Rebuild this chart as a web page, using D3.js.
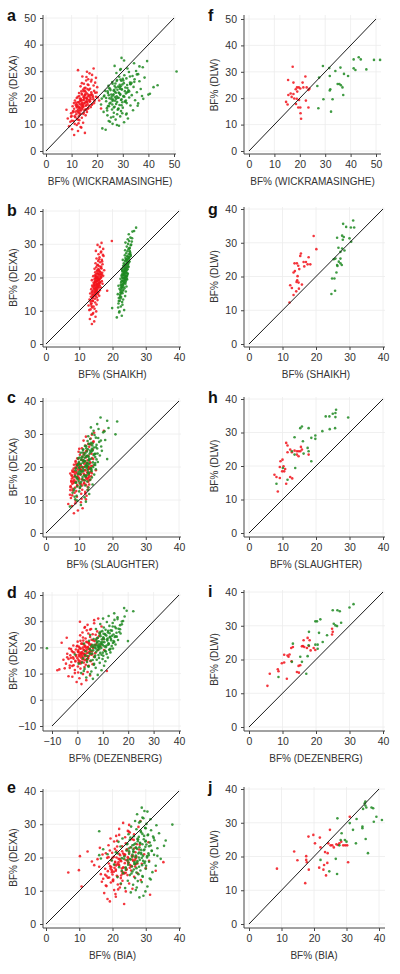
<!DOCTYPE html>
<html><head><meta charset="utf-8">
<script src="https://cdn.jsdelivr.net/npm/d3@7"></script>
<style>body{margin:0;background:#fff}svg{display:block}</style>
</head><body><svg id="chart" width="400" height="974"></svg>
<script>
// ---------- tick labels ----------
const ticks50 = [0,10,20,30,40,50];
const ticks40 = [0,10,20,30,40];
const ticksNeg = [-10,0,10,20,30,40];

// ---------- DEXA reference values (same children in panels a-e) ----------
const dexaRed = [6.0,6.8,7.5,8.2,8.8,9.3,9.8,10.2,10.6,11.0,
11.3,11.6,11.9,12.2,12.5,12.7,13.0,13.2,13.4,13.6,
13.8,14.0,14.2,14.4,14.5,14.7,14.9,15.0,15.2,15.3,
15.5,15.6,15.8,15.9,16.1,16.2,16.4,16.5,16.6,16.8,
16.9,17.0,17.2,17.3,17.4,17.6,17.7,17.8,18.0,18.1,
18.2,18.4,18.5,18.6,18.8,18.9,19.0,19.2,19.3,19.5,
19.6,19.8,19.9,20.1,20.2,20.4,20.5,20.7,20.9,21.0,
21.2,21.4,21.6,21.8,22.0,22.2,22.4,22.6,22.9,23.1,
23.4,23.7,24.0,24.3,24.6,25.0,25.3,25.7,26.1,26.5,
27.0,27.5,28.0,28.6,29.2,29.8,30.4,31.0,16.0,19.0,
14.3,15.1,15.7,16.3,16.7,17.1,17.5,17.9,18.3,18.7,
19.1,19.4,19.7,20.0,20.3,20.6,21.1,21.5,22.1,22.7,
13.1,13.9,14.6,15.4,16.0,16.6,17.0,17.4,17.8,18.2,
18.6,19.0,19.5,19.9,20.4,20.8,21.3,21.9,22.5,23.3,
12.0,12.9,14.8,15.5,16.2,16.9,17.6,18.4,19.2,20.1,
21.0,23.8,24.8,25.5,26.8,11.4,10.4,9.0,27.8,18.0];
const dexaGreen = [8.0,8.5,9.5,10.2,10.8,11.3,11.8,12.2,12.6,13.0,
13.4,13.8,14.1,14.4,14.7,15.0,15.3,15.6,15.8,16.1,
16.3,16.6,16.8,17.1,17.3,17.5,17.7,17.9,18.1,18.3,
18.5,18.7,18.9,19.1,19.3,19.4,19.6,19.8,20.0,20.1,
20.3,20.5,20.6,20.8,21.0,21.1,21.3,21.5,21.6,21.8,
22.0,22.1,22.3,22.5,22.6,22.8,23.0,23.2,23.3,23.5,
23.7,23.9,24.1,24.3,24.5,24.7,24.9,25.1,25.3,25.5,
25.7,25.9,26.2,26.4,26.7,27.0,27.3,27.6,27.9,28.2,
28.5,28.9,29.3,29.7,30.1,30.5,31.0,31.5,32.0,33.0,
34.0,35.0,22.4,19.7,17.0,24.0,21.2,20.7,29.9,33.8,
16.4,17.2,17.8,18.4,19.0,19.5,20.0,20.4,20.9,21.4,
21.9,22.4,22.9,23.4,23.9,24.4,25.0,25.6,26.3,27.1,
15.5,16.9,18.0,18.8,19.2,19.9,20.2,20.7,21.2,21.7,
22.2,22.7,23.1,23.6,24.2,24.8,25.4,26.0,26.9,28.0,
12.9,14.2,15.2,16.0,17.5,18.6,19.6,21.0,22.0,23.0,
24.0,25.2,26.5,28.8,30.8,11.0,9.8,13.7,31.8,20.5];

// ---------- predicted BF% for the DEXA children ----------
const wickRed = [11.0,15.2,12.5,10.2,13.8,9.0,12.0,11.2,14.5,9.5,
10.8,13.0,12.2,8.5,14.0,11.5,12.8,10.0,15.5,13.2,
11.8,13.5,9.8,14.8,12.4,16.0,12.9,10.6,13.7,15.0,
8.0,12.6,14.2,11.0,16.5,13.3,12.1,17.5,14.6,10.4,
13.9,12.3,15.8,11.6,14.4,18.0,13.1,16.2,10.9,15.1,
14.0,12.7,17.0,15.6,13.4,19.0,11.3,16.8,14.9,18.5,
13.6,15.9,12.0,17.3,14.7,19.5,16.4,13.0,18.2,15.3,
14.1,17.8,16.0,12.9,19.8,15.5,13.8,18.8,16.7,14.5,
17.2,15.0,20.0,13.5,18.6,16.3,14.8,19.2,17.6,15.7,
16.5,19.5,14.2,18.0,17.0,16.0,12.5,18.6,21.5,20.8,
13.0,12.2,15.4,14.1,11.9,16.8,13.6,15.0,12.6,17.2,
14.4,16.1,13.2,15.7,18.3,14.8,16.6,13.9,17.7,15.2,
11.2,14.6,10.5,13.4,16.4,12.8,15.5,17.9,14.2,11.7,
16.0,13.5,17.4,14.9,12.4,16.9,15.3,19.2,14.7,16.2,
12.3,9.8,11.5,15.8,13.0,14.5,12.0,15.9,13.7,20.2,
17.5,15.4,16.6,14.0,17.8,10.1,12.7,13.5,15.8,18.8];
const wickGreen = [23.3,22.0,28.5,26.0,30.5,24.5,27.2,32.0,25.4,29.0,
24.0,27.8,31.5,26.5,22.5,29.3,34.0,25.8,28.2,23.8,
30.0,26.8,24.6,33.0,28.7,21.5,27.4,36.0,25.2,29.8,
31.0,23.5,27.0,34.8,26.2,29.5,38.0,24.8,28.0,32.5,
25.6,30.2,27.6,22.8,33.5,29.0,26.4,40.6,31.2,24.2,
28.4,35.5,26.9,30.8,23.2,32.2,27.9,29.6,37.0,25.0,
31.8,27.3,34.2,29.2,24.4,43.6,28.8,33.0,26.0,30.4,
32.8,25.9,36.5,29.4,27.8,34.6,31.4,38.5,28.6,33.8,
30.6,36.0,27.5,32.4,35.2,29.0,31.8,37.8,26.8,34.4,
30.5,29.5,24.1,21.8,35.8,42.0,40.0,37.5,51.0,39.5,
26.5,29.5,24.8,27.8,31.2,25.6,28.4,30.6,26.2,29.0,
27.3,32.5,25.2,28.9,31.0,26.8,29.8,33.4,27.6,30.0,
28.0,24.2,31.5,26.0,29.3,23.5,27.0,30.3,25.5,28.6,
32.0,26.4,29.6,24.6,28.2,31.7,27.1,34.5,29.1,32.8,
26.3,29.8,23.9,28.3,25.9,30.8,27.4,24.5,31.6,26.7,
28.8,33.0,30.2,35.5,29.2,25.0,27.7,31.3,36.5,22.6];
const shaikhRed = [13.8,14.5,13.2,14.9,13.6,14.2,15.1,13.0,14.6,13.9,
14.3,12.8,15.2,13.7,14.8,13.4,14.1,15.5,13.1,14.7,
14.0,15.3,13.5,14.9,16.0,13.9,14.4,15.6,13.3,15.0,
14.6,15.8,13.8,15.2,14.2,16.2,14.9,13.6,15.5,14.4,
15.1,16.5,14.0,15.7,14.8,13.9,16.0,15.3,14.5,17.0,
15.4,14.3,16.3,15.0,14.7,16.8,15.6,13.8,15.9,14.6,
16.1,15.2,14.9,16.6,15.5,14.2,17.2,15.8,16.4,15.0,
15.7,16.9,14.8,16.2,15.3,17.5,15.9,14.6,16.5,15.1,
16.0,15.4,17.0,14.9,16.3,15.7,16.8,15.2,16.1,17.3,
15.8,16.5,15.0,17.2,16.2,15.5,16.7,19.8,18.4,15.3,
14.2,15.0,14.6,15.3,14.9,15.6,14.4,15.2,15.9,14.8,
15.4,16.1,15.0,15.7,16.3,14.7,15.8,16.4,15.5,16.7,
13.6,14.0,14.8,13.9,15.1,14.5,16.0,15.3,14.6,15.9,
16.2,14.9,15.6,16.5,15.0,16.8,15.4,16.0,15.7,16.6,
13.5,14.1,14.3,15.5,14.9,15.2,16.1,14.7,15.8,15.1,
16.4,15.6,16.9,16.0,17.1,13.7,13.4,14.0,16.6,15.5];
const shaikhGreen = [21.3,22.8,22.0,23.5,19.9,22.5,23.0,21.8,22.9,22.2,
23.2,21.9,22.6,23.8,22.3,21.6,23.0,22.7,24.0,22.4,
23.3,22.1,23.6,22.8,24.2,21.8,23.1,22.5,23.9,23.4,
22.6,24.0,23.2,22.9,23.7,24.4,22.4,23.5,23.0,24.1,
23.8,22.7,24.3,23.3,22.9,24.6,23.6,23.1,24.0,23.4,
24.2,23.0,23.7,24.5,22.8,23.9,24.1,23.5,24.8,23.2,
24.0,23.6,24.7,23.4,24.3,25.0,23.8,24.5,23.1,24.2,
24.6,23.9,25.1,24.4,23.7,24.9,24.1,25.3,24.5,23.8,
24.8,25.2,24.3,25.5,24.7,23.9,25.0,24.6,25.4,24.9,
26.5,27.1,23.6,23.4,22.7,24.2,23.5,23.0,25.6,26.0,
22.6,23.3,22.9,23.6,23.1,23.8,23.4,24.0,23.5,24.2,
23.7,24.4,23.9,24.6,24.1,24.8,24.3,25.0,24.6,25.3,
22.4,22.8,23.2,22.7,23.9,23.0,24.1,23.3,24.5,23.6,
24.0,23.4,24.7,23.8,24.4,25.1,24.2,24.9,25.4,25.2,
21.9,22.3,22.5,23.1,22.6,23.5,24.3,23.7,22.9,24.0,
24.6,23.9,25.5,25.0,25.8,21.7,22.1,22.4,25.9,24.4];
const slaughterRed = [8.4,9.6,11.0,7.8,6.7,10.5,8.9,12.0,7.5,9.3,
12.2,7.2,10.6,8.6,11.8,9.1,7.3,12.6,8.0,10.2,
8.8,12.5,7.4,10.9,9.4,13.0,7.9,11.4,8.3,10.1,
12.7,9.0,7.6,11.6,8.5,13.3,10.0,7.8,12.1,9.8,
8.2,11.9,13.6,9.5,7.7,12.9,10.4,8.7,11.3,13.8,
9.2,12.4,8.0,13.5,10.7,7.9,11.8,9.7,12.8,10.3,
13.4,8.8,11.1,12.6,9.3,14.0,10.5,8.4,12.2,11.5,
9.9,13.2,11.7,8.9,12.5,10.6,14.2,9.4,12.0,11.0,
12.8,10.2,13.7,11.4,9.8,12.3,14.1,10.8,13.0,11.9,
12.7,14.2,11.3,13.4,12.0,13.8,14.5,17.4,13.0,15.0,
9.4,11.5,8.2,10.8,12.6,8.7,11.9,9.9,13.1,8.4,
10.6,12.8,9.2,11.4,13.6,10.1,12.3,8.9,11.0,13.9,
10.9,7.4,12.0,8.6,11.2,9.6,13.0,7.8,10.4,12.5,
9.1,11.7,8.3,12.9,10.2,9.0,13.4,11.1,9.7,12.2,
11.8,8.0,10.5,7.6,12.4,9.3,11.6,8.5,10.3,12.7,
9.5,11.3,12.1,10.0,13.5,7.9,10.7,8.8,14.3,7.3];
const slaughterGreen = [7.2,10.5,12.0,8.8,11.6,9.2,13.0,8.0,10.0,12.5,
8.5,12.8,9.4,11.8,14.0,10.2,8.9,12.4,9.8,13.3,
11.0,9.3,13.8,12.0,8.7,11.5,14.5,9.6,12.8,10.4,
9.8,13.7,10.3,12.5,15.0,11.2,9.0,10.0,14.2,11.8,
12.2,9.4,14.8,13.0,10.5,12.6,11.1,15.6,9.9,11.8,
12.9,10.6,15.2,13.6,9.7,11.6,14.8,10.9,12.4,16.2,
11.5,14.6,15.5,10.4,13.4,12.3,16.8,14.0,11.2,13.8,
12.1,14.4,16.6,11.7,15.2,12.9,13.6,16.0,12.5,17.8,
13.3,15.0,12.7,14.6,13.9,17.2,14.3,15.8,13.5,15.4,
18.4,16.4,18.4,12.2,11.0,13.1,12.3,14.5,20.9,21.4,
9.5,11.9,10.3,12.7,8.9,13.4,10.8,12.2,9.9,14.1,
11.4,13.0,10.1,12.5,14.6,11.0,13.3,15.4,12.1,14.0,
10.6,9.2,12.9,11.2,13.7,10.0,12.4,9.6,14.8,11.5,
13.1,10.7,12.0,14.3,11.8,13.8,12.6,15.0,13.2,16.5,
8.4,10.4,9.1,11.6,12.3,10.9,13.5,9.8,11.3,12.8,
14.9,11.1,13.9,15.7,17.6,8.6,9.4,10.2,18.8,12.0];
const dezenbergRed = [1.6,-0.3,3.5,0.8,-2.0,5.0,2.2,-1.0,4.0,11.6,
-7.9,-7.1,1.2,-3.0,2.8,0.2,4.5,-1.5,3.3,6.0,
-4.5,0.9,2.5,-2.4,1.7,5.2,-0.8,3.8,0.4,-5.5,
2.0,-3.5,4.2,0.0,1.4,-1.8,6.5,2.9,-0.5,3.6,
1.0,-2.8,5.5,0.6,3.0,-4.0,2.4,7.0,-1.2,4.4,
1.8,0.3,5.8,-2.2,3.4,8.0,2.6,-0.6,4.8,1.3,
-3.2,6.2,2.1,4.1,0.7,9.0,3.1,-1.6,5.3,2.7,
7.4,1.5,4.6,-6.2,3.9,0.1,6.8,2.3,5.6,10.0,
3.2,-4.2,5.0,8.5,1.1,6.0,4.3,2.0,7.8,3.7,
5.4,2.8,9.5,4.0,6.6,1.0,6.6,8.2,-2.6,10.5,
0.5,3.2,-1.5,2.0,4.5,-0.5,1.5,3.8,0.2,5.0,
2.4,-2.5,1.0,4.0,2.8,0.0,5.5,1.8,3.5,6.2,
-3.0,1.3,-0.8,2.6,4.2,0.7,3.0,5.8,1.6,-1.8,
2.9,0.4,4.8,3.3,-0.2,6.8,2.1,4.4,1.2,7.5,
-5.0,-2.0,0.9,3.6,-4.0,1.9,2.5,5.2,3.9,6.0,
4.7,2.2,7.2,8.8,5.0,-1.0,0.3,-3.5,3.0,1.0];
const dezenbergGreen = [6.1,3.5,8.0,1.5,5.5,9.5,2.8,7.2,4.4,10.5,
6.5,0.5,8.8,3.8,11.0,5.2,7.6,9.9,2.2,12.0,
6.9,4.0,10.2,8.3,-1.0,11.5,5.8,9.0,13.0,7.4,
3.2,10.8,6.2,12.5,8.6,4.8,14.0,9.4,7.0,11.2,
5.4,13.5,8.1,10.0,6.8,15.0,9.2,2.6,12.2,7.7,
10.6,14.5,8.4,4.6,11.8,16.0,9.6,6.4,13.2,10.3,
7.9,12.8,15.5,9.1,11.4,5.0,14.2,10.8,17.0,8.7,
12.0,16.5,9.8,13.6,11.1,7.3,15.2,10.4,14.8,12.6,
16.8,9.0,13.9,11.6,18.0,14.6,10.1,15.8,12.3,14.5,
19.4,18.4,19.9,-12.0,3.0,12.8,8.5,7.5,17.5,22.0,
6.8,9.5,4.8,11.2,7.9,13.0,8.6,10.7,5.9,12.4,
9.3,14.2,7.4,11.9,10.2,13.6,8.9,15.4,12.1,16.2,
3.8,7.0,10.0,5.5,12.8,8.2,6.3,11.5,9.7,14.0,
7.7,13.3,10.5,8.0,15.0,11.0,12.7,9.1,16.8,13.9,
4.2,1.8,6.0,8.5,5.1,10.9,7.2,12.2,9.9,11.7,
14.7,10.3,13.1,17.5,15.8,2.5,5.0,6.6,18.6,8.8];
const biaRed = [23.5,19.2,18.5,21.0,31.3,17.5,24.0,20.5,26.0,22.2,
10.7,18.0,21.6,25.0,19.5,16.8,23.0,28.5,20.2,17.2,
22.5,19.0,26.5,18.2,21.3,24.5,20.0,16.5,23.6,27.5,
6.7,19.8,22.8,18.6,25.6,9.9,21.0,24.2,17.8,30.0,
20.6,23.3,16.0,26.8,19.3,22.0,14.5,25.2,21.5,28.8,
18.9,24.8,20.8,35.3,13.8,22.6,26.2,19.6,23.9,15.5,
21.8,27.0,18.4,24.6,20.4,10.2,25.8,22.3,17.0,29.5,
23.2,19.9,26.9,12.5,21.2,24.4,28.0,20.7,16.2,25.4,
22.9,18.8,27.3,24.0,30.8,21.4,26.4,19.4,23.8,21.1,
26.5,25.2,24.6,22.0,27.8,25.0,23.2,28.4,33.0,31.0,
21.5,23.0,20.4,24.2,22.8,19.6,25.5,21.9,23.7,20.8,
22.4,26.0,24.8,21.2,27.2,23.5,22.0,25.0,19.2,26.5,
20.1,18.6,22.6,24.0,21.0,19.4,23.2,25.8,20.6,27.5,
21.8,24.5,22.2,20.0,26.2,23.8,18.0,22.9,24.3,21.4,
22.5,20.2,17.8,23.4,19.8,25.2,21.1,24.7,26.8,18.8,
23.6,28.2,20.5,25.9,22.0,18.2,21.7,20.9,24.9,27.0];
const biaGreen = [28.1,29.3,25.5,27.0,23.8,30.5,26.2,22.5,28.8,24.6,
31.5,26.8,21.5,29.0,25.2,27.8,23.2,32.0,26.0,28.4,
24.0,30.0,27.2,22.0,25.8,33.0,28.9,20.5,26.6,29.6,
24.8,31.0,27.5,19.8,28.2,25.4,34.5,22.8,30.4,26.9,
23.6,29.2,27.0,32.5,18.5,25.0,30.8,28.0,21.0,26.3,
31.8,24.2,28.6,17.2,27.4,33.5,25.6,29.9,22.4,35.5,
26.0,30.2,24.5,28.3,31.2,21.8,27.6,36.0,25.2,29.4,
23.0,32.4,27.9,26.4,30.6,24.8,34.0,28.6,16.0,31.6,
27.2,29.8,25.6,33.2,30.2,28.0,26.8,31.4,29.0,27.4,
29.6,28.8,26.2,16.5,24.0,29.0,21.5,16.0,38.0,30.5,
26.4,28.0,24.7,27.4,29.2,25.3,27.9,30.4,26.0,28.6,
25.0,29.6,27.1,31.0,26.5,28.3,30.0,27.5,32.2,29.0,
27.2,23.9,26.7,29.8,24.5,28.8,25.9,30.9,27.8,26.3,
29.4,24.9,28.1,31.5,26.9,29.9,27.7,25.4,30.7,28.5,
27.6,29.1,25.7,22.8,30.1,26.6,23.4,28.7,31.8,27.0,
24.3,32.6,29.5,30.0,28.4,27.3,29.9,31.2,29.3,33.5];

// ---------- DLW subsample: [predicted, DLW] ----------
const dlwWickRed = [[15.4,26.9],[17.2,31.9],[17.5,25.9],[21.1,25.9],[22.2,28.2],[18.9,24.1],[19.6,24.1],[20.2,23.7],[18.4,23.4],[22.7,24.1],[23.4,23.1],[16.4,21.8],[17.5,21.6],[15.5,21.2],[17.8,19.9],[18.8,19.8],[19.7,19.3],[14.6,18.6],[15.2,17.6],[18.5,17.8],[19.4,16.5],[20.2,16.5],[22.4,19.1],[23.4,16.5],[20.3,14.3],[20.5,12.2],[21.4,24.1],[16.8,20.5],[19.0,22.5],[23.8,23.6]];
const dlwWickGreen = [[27.6,27.8],[26.9,24.6],[29.1,32.2],[31.6,31.4],[31.8,28.4],[34.0,30.3],[36.0,31.6],[37.4,29.2],[39.0,28.4],[41.2,34.7],[43.2,35.5],[44.0,34.7],[49.2,34.5],[51.6,34.5],[41.2,31.3],[41.9,30.7],[46.2,30.9],[32.0,23.4],[31.8,22.9],[34.9,25.4],[35.6,25.4],[36.2,24.9],[36.8,24.1],[37.1,21.2],[29.3,19.6],[32.9,19.6],[27.3,16.2],[32.3,14.9]];
const dlwShaikhRed = [[19.3,32.0],[20.1,28.1],[15.5,26.8],[15.3,26.1],[17.8,25.7],[14.3,23.9],[13.6,23.9],[14.7,23.2],[16.3,24.3],[17.0,24.3],[17.5,23.6],[18.3,23.6],[16.5,23.0],[13.7,21.6],[13.3,21.2],[14.5,20.1],[14.4,18.9],[14.2,18.4],[14.8,18.2],[12.3,17.4],[12.8,16.6],[14.9,16.4],[14.1,15.6],[13.3,14.5],[12.1,12.3],[15.0,22.2],[15.8,17.6]];
const dlwShaikhGreen = [[28.1,35.6],[29.0,34.7],[31.1,36.6],[30.4,34.5],[31.4,34.5],[27.8,32.1],[28.3,31.7],[26.3,31.5],[28.0,30.9],[30.0,31.3],[30.5,30.3],[26.7,28.5],[27.8,28.3],[27.3,27.3],[28.5,27.7],[25.8,25.3],[25.3,25.1],[27.3,25.3],[26.8,24.4],[26.3,23.4],[27.3,23.9],[26.4,23.1],[27.7,23.4],[26.1,21.2],[24.8,19.4],[25.5,19.4],[25.7,15.8],[24.6,14.8]];
const dlwSlaughterRed = [[9.2,19.7],[9.4,21.4],[10.0,21.9],[11.1,26.9],[11.5,26.1],[12.3,24.9],[11.5,24.1],[12.8,24.1],[13.6,24.6],[14.3,24.4],[14.8,24.4],[15.3,24.4],[14.3,23.4],[14.8,22.9],[15.5,25.7],[15.8,24.9],[17.8,23.4],[10.3,19.9],[10.8,19.1],[10.5,18.4],[9.9,18.4],[7.6,17.4],[8.2,16.7],[9.2,16.4],[12.3,16.7],[12.9,16.3],[11.1,14.7],[8.6,12.4]];
const dlwSlaughterGreen = [[15.8,31.8],[15.3,31.3],[17.8,31.3],[13.6,28.6],[16.1,27.4],[19.8,29.1],[18.6,28.4],[19.8,28.1],[21.9,30.4],[22.9,34.8],[24.0,34.8],[25.0,35.6],[25.8,35.8],[26.0,36.8],[25.8,34.6],[24.1,31.0],[25.7,31.3],[29.6,34.5],[17.5,25.4],[17.8,24.4],[16.3,23.7],[18.6,21.4],[12.8,24.4],[13.6,23.4],[13.8,19.4],[11.5,15.9],[10.1,19.4],[8.2,14.7]];
const dlwDezenbergRed = [[5.5,12.2],[6.2,15.8],[8.8,16.5],[8.6,17.1],[9.8,18.9],[10.5,19.1],[10.5,21.4],[11.5,21.2],[12.1,21.5],[11.8,20.8],[11.3,14.3],[12.6,23.4],[13.1,23.7],[12.7,19.5],[14.3,16.3],[14.9,16.1],[14.8,18.1],[15.3,18.3],[15.8,23.9],[16.1,24.0],[16.5,23.7],[16.3,25.7],[17.5,26.4],[18.1,25.7],[17.3,23.4],[17.9,24.0],[18.4,22.7],[19.3,23.4],[19.8,22.8],[24.8,29.1],[25.0,28.2],[24.8,27.4]];
const dlwDezenbergGreen = [[8.8,14.8],[12.8,19.3],[13.1,24.7],[15.3,20.8],[15.8,19.3],[17.1,15.8],[17.5,21.0],[17.8,24.2],[17.9,28.2],[19.8,31.3],[20.3,31.3],[21.3,31.9],[19.8,24.4],[20.5,23.2],[20.5,24.4],[20.9,27.9],[22.0,25.2],[23.3,27.2],[25.0,34.6],[26.4,34.6],[27.1,34.3],[25.3,30.6],[25.8,30.1],[26.3,29.9],[27.5,30.9],[30.0,35.4],[31.2,36.4]];
const dlwBiaRed = [[8.6,16.4],[13.9,21.5],[14.9,18.9],[17.6,20.1],[17.6,19.0],[17.8,18.3],[18.3,25.9],[18.4,16.1],[17.3,12.1],[19.8,26.4],[20.3,23.9],[21.8,25.6],[22.0,22.7],[21.6,16.7],[22.9,16.1],[23.4,21.3],[23.1,17.5],[23.7,14.4],[24.1,18.1],[24.2,21.0],[24.4,23.9],[24.9,27.9],[25.1,23.3],[25.6,23.3],[26.1,22.7],[26.9,23.6],[27.4,23.4],[27.8,23.9],[28.4,24.4],[29.0,23.3],[29.6,23.3],[30.2,23.3],[30.5,18.3],[31.0,31.8]];
const dlwBiaGreen = [[22.0,19.0],[24.7,15.6],[26.7,19.3],[27.2,31.3],[27.1,14.8],[27.8,23.3],[28.2,24.9],[28.5,26.9],[29.5,24.9],[30.0,24.4],[31.0,29.9],[32.0,27.9],[32.9,23.9],[33.1,31.1],[34.9,28.4],[34.9,28.9],[35.1,34.1],[35.6,35.8],[35.8,36.3],[35.8,35.1],[36.1,34.5],[35.9,25.2],[36.6,21.0],[37.7,34.5],[38.2,34.3],[38.4,30.3],[39.2,31.8],[40.9,30.8]];

// ---------- layout ----------
const RED = "#f2131b", GREEN = "#1f8a22";
const FONT = "'Liberation Sans', Arial, Helvetica, sans-serif";
const svg = d3.select("#chart");

const panels = [
 {letter:"a", xl:"BF% (WICKRAMASINGHE)", yl:"BF% (DEXA)", red:d3.zip(wickRed,dexaRed), green:d3.zip(wickGreen,dexaGreen),
  xd:[0,50], yd:[0,50], xt:ticks50, yt:ticks50, xr:[46,174], yr:[151,18], f:[43,176,15,154], lx:7, ly:21},
 {letter:"f", xl:"BF% (WICKRAMASINGHE)", yl:"BF% (DLW)", red:dlwWickRed, green:dlwWickGreen,
  xd:[0,50], yd:[0,50], xt:ticks50, yt:ticks50, xr:[249,376], yr:[151,19], f:[244,381,15,154], lx:208, ly:21},
 {letter:"b", xl:"BF% (SHAIKH)", yl:"BF% (DEXA)", red:d3.zip(shaikhRed,dexaRed), green:d3.zip(shaikhGreen,dexaGreen),
  xd:[0,40], yd:[0,40], xt:ticks40, yt:ticks40, xr:[46,179], yr:[344,211], f:[43,181,209,347], lx:7, ly:216},
 {letter:"g", xl:"BF% (SHAIKH)", yl:"BF% (DLW)", red:dlwShaikhRed, green:dlwShaikhGreen,
  xd:[0,40], yd:[0,40], xt:ticks40, yt:ticks40, xr:[249,383], yr:[344,209], f:[244,385,207,347], lx:208, ly:215},
 {letter:"c", xl:"BF% (SLAUGHTER)", yl:"BF% (DEXA)", red:d3.zip(slaughterRed,dexaRed), green:d3.zip(slaughterGreen,dexaGreen),
  xd:[0,40], yd:[0,40], xt:ticks40, yt:ticks40, xr:[46,179], yr:[533,401], f:[43,181,398,537], lx:7, ly:403},
 {letter:"h", xl:"BF% (SLAUGHTER)", yl:"BF% (DLW)", red:dlwSlaughterRed, green:dlwSlaughterGreen,
  xd:[0,40], yd:[0,40], xt:ticks40, yt:ticks40, xr:[249,383], yr:[533,399], f:[244,385,397,537], lx:208, ly:403},
 {letter:"d", xl:"BF% (DEZENBERG)", yl:"BF% (DEXA)", red:d3.zip(dezenbergRed,dexaRed), green:d3.zip(dezenbergGreen,dexaGreen),
  xd:[-10,40], yd:[-10,40], xt:ticksNeg, yt:ticksNeg, xr:[52,179], yr:[726,595], f:[43,181,592,731], lx:7, ly:598},
 {letter:"i", xl:"BF% (DEZENBERG)", yl:"BF% (DLW)", red:dlwDezenbergRed, green:dlwDezenbergGreen,
  xd:[0,40], yd:[0,40], xt:ticks40, yt:ticks40, xr:[249,383], yr:[727,592], f:[244,385,590,731], lx:208, ly:597},
 {letter:"e", xl:"BF% (BIA)", yl:"BF% (DEXA)", red:d3.zip(biaRed,dexaRed), green:d3.zip(biaGreen,dexaGreen),
  xd:[0,40], yd:[0,40], xt:ticks40, yt:ticks40, xr:[46,179], yr:[924,791], f:[43,181,789,928], lx:7, ly:793},
 {letter:"j", xl:"BF% (BIA)", yl:"BF% (DLW)", red:dlwBiaRed, green:dlwBiaGreen,
  xd:[0,40], yd:[0,40], xt:ticks40, yt:ticks40, xr:[249,379], yr:[924,789], f:[244,385,787,928], lx:208, ly:793}
];

panels.forEach(p => {
  const x = d3.scaleLinear().domain(p.xd).range(p.xr);
  const y = d3.scaleLinear().domain(p.yd).range(p.yr);
  const [L,R,T,B] = p.f;
  const g = svg.append("g");

  // grid
  g.append("g").selectAll("line").data(p.yt).join("line")
    .attr("x1",L).attr("x2",R).attr("y1",d=>y(d)).attr("y2",d=>y(d))
    .attr("stroke","#ececec").attr("stroke-width",0.8);
  g.append("g").selectAll("line").data(p.xt).join("line")
    .attr("y1",T).attr("y2",B).attr("x1",d=>x(d)).attr("x2",d=>x(d))
    .attr("stroke","#ececec").attr("stroke-width",0.8);

  // points: red first, green drawn over it
  g.append("g").selectAll("circle").data(p.red).join("circle")
    .attr("cx",d=>x(d[0])).attr("cy",d=>y(d[1])).attr("r",1.3)
    .attr("fill",RED).attr("fill-opacity",0.85);
  g.append("g").selectAll("circle").data(p.green).join("circle")
    .attr("cx",d=>x(d[0])).attr("cy",d=>y(d[1])).attr("r",1.3)
    .attr("fill",GREEN).attr("fill-opacity",0.85);

  // identity line
  const lo = p.xd[0], hi = p.xt[p.xt.length-1];
  g.append("line").attr("x1",x(lo)).attr("y1",y(lo)).attr("x2",x(hi)).attr("y2",y(hi))
    .attr("stroke","#1a1a1a").attr("stroke-width",1);

  // axes
  const ax = g.append("g").attr("transform",`translate(0,${B})`)
    .call(d3.axisBottom(x).tickValues(p.xt).tickFormat(d3.format("d")).tickSize(3).tickPadding(4));
  const ay = g.append("g").attr("transform",`translate(${L},0)`)
    .call(d3.axisLeft(y).tickValues(p.yt).tickFormat(d3.format("d")).tickSize(3).tickPadding(4));
  [ax,ay].forEach(a => {
    a.select(".domain").remove();
    a.selectAll("line").attr("stroke","#444");
    a.selectAll("text").attr("fill","#333").style("font-size","10.5px").style("font-family",FONT);
  });
  g.append("line").attr("x1",L).attr("x2",R).attr("y1",B).attr("y2",B).attr("stroke","#444");
  g.append("line").attr("x1",L).attr("x2",L).attr("y1",T).attr("y2",B).attr("stroke","#444");

  // axis titles
  g.append("text").attr("x",(p.xr[0]+p.xr[1])/2).attr("y",B+31).attr("text-anchor","middle")
    .attr("fill","#333").style("font-size","10px").style("font-family",FONT).text(p.xl);
  g.append("text").attr("transform",`translate(${L-26},${(p.yr[0]+p.yr[1])/2}) rotate(-90)`)
    .attr("text-anchor","middle").attr("fill","#333").style("font-size","10px").style("font-family",FONT).text(p.yl);

  // panel letter
  g.append("text").attr("x",p.lx).attr("y",p.ly).attr("fill","#111")
    .style("font-size","16px").style("font-weight","bold").style("font-family",FONT).text(p.letter);
});
</script>
</body></html>
